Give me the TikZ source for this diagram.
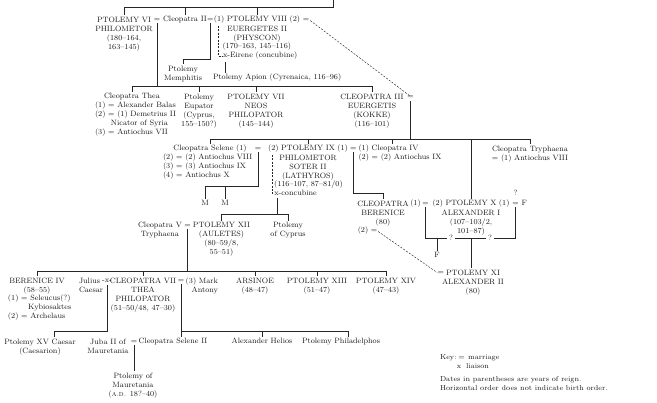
\documentclass[tikz,border=0pt]{standalone}
\usetikzlibrary{calc}
\begin{document}
\begin{tikzpicture}[x=1pt,y=-1pt,
  every node/.style={inner sep=0pt,outer sep=0pt,text=black!90,font=\fontsize{7.7}{9}\selectfont},
  blk/.style={anchor=north,align=center},
  bl/.style={anchor=base west},
  bc/.style={anchor=base},
  br/.style={anchor=base east},
  ln/.style={draw=black!85,line width=0.5pt},
  dsh/.style={draw=black!85,line width=0.45pt,dash pattern=on 2pt off 1.4pt},
  drop/.style={ln,shorten >=1.5pt},
  keyt/.style={font=\fontsize{7.2}{8.5}\selectfont}]
\useasboundingbox (0,0) rectangle (657,403);
% bar levels
\coordinate (t0) at (333,0);
\coordinate (b1) at (0,7);
\coordinate (b2) at (0,86);
\coordinate (b3) at (0,139);
\coordinate (b4) at (0,186);
\coordinate (b4r) at (0,193);
\coordinate (b5) at (0,214);
\coordinate (b6) at (0,238);
\coordinate (b7) at (0,271);
\coordinate (b8) at (0,331);

% ---------- row 1
\node[blk] (n6) at (124,16.9) {PTOLEMY VI\\PHILOMETOR\\(180--164,\\163--145)};
\node[bc] (e1) at (157,22) {=};
\node[bc] (c2) at (185,22) {Cleopatra II};
\node[bc] (e2) at (210.3,22) {=};
\node[bc] (n8) at (257,22) {PTOLEMY VIII};
\node[blk] (n8b) at (257,25.8) {EUERGETES II\\(PHYSCON)};
\node[br] (n8l) at ($(n8.base west)+(-2.5,0)$) {(1)};
\node[bl] (n8r) at ($(n8.base east)+(2.5,0)$) {(2)};
\node[bc] (e3) at ($(n8r.base east)+(6,0)$) {=};
\node[bl] (n8c) at (222.5,49) {(170--163, 145--116)};
\node[bl] (eir) at (223,58) {x-Eirene (concubine)};
\node[blk] (mem) at (183,65.8) {Ptolemy\\Memphitis};
\node[bl] (apion) at (213,80) {Ptolemy Apion (Cyrenaica, 116--96)};

\draw[ln] (t0) |- (n6.north |- b1);
\draw[ln] (n6.north |- b1) -- (n8.north |- b1);
\foreach \n in {n6,c2,n8} \draw[drop] (\n.north |- b1) -- (\n.north);
\draw[dsh] ($(n8l.south)+(-1,2)$) |- (eir.west);
\coordinate (eirb) at ($(eir.south west)+(2.2,1.8)$);
\draw[drop] (eirb) -- (eirb |- apion.north);
\draw[drop] ($(e2.south)+(0,1.2)$) -- ++(0,36) -| (mem.north);

% ---------- row 2
\node[bc] (thea) at (132,99) {Cleopatra Thea};
\node[bl] (th1) at (95,108) {(1) = Alexander Balas};
\node[bl] (th2) at (95,117) {(2) = (1) Demetrius II};
\node[br] (th3) at (168,126) {Nicator of Syria};
\node[bl] (th4) at (95,135) {(3) = Antiochus VII};
\node[blk] (eup) at (199,93.8) {Ptolemy\\Eupator\\(Cyprus,\\155--150?)};
\node[blk] (n7) at (256,93.8) {PTOLEMY VII\\NEOS\\PHILOPATOR\\(145--144)};
\node[blk] (c3) at (372,93.8) {CLEOPATRA III\\EUERGETIS\\(KOKKE)\\(116--101)};
\node[bc] (e4) at (410.5,99) {=};

\draw[ln] ($(e1.south)+(0,1.2)$) -- (e1.south |- b2);
\draw[ln] (thea.north |- b2) -- (c3.north |- b2);
\foreach \n in {thea,eup,n7,c3} \draw[drop] (\n.north |- b2) -- (\n.north);
\draw[dsh] ($(e3.east)+(1,0)$) -- ($(e4.north)+(-1,-0.5)$);

% ---------- row 3
\node[bc] (sel) at (210,151) {Cleopatra Selene (1)};
\node[bl] (s1) at (163,160) {(2) = (2) Antiochus VIII};
\node[bl] (s2) at (163,169) {(3) = (3) Antiochus IX};
\node[bl] (s3) at (163,178) {(4) = Antiochus X};
\node[bc] (e5) at (258,151) {=};
\node[bc] (n9) at (308,151) {PTOLEMY IX};
\node[blk] (n9b) at (308,154.8) {PHILOMETOR\\SOTER II\\(LATHYROS)};
\node[br] (n9l) at ($(n9.base west)+(-2.5,0)$) {(2)};
\node[bl] (n9r) at ($(n9.base east)+(2.5,0)$) {(1)};
\node[bc] (e6) at ($(n9r.base east)+(5.5,0)$) {=};
\node[bl] (c4) at (358.5,151) {(1) Cleopatra IV};
\node[bl] (c4b) at (358.5,160) {(2) = (2) Antiochus IX};
\node[blk] (tryph) at (530,145.9) {Cleopatra Tryphaena\\= (1) Antiochus VIII};
\node[bl] (n9c) at ($(n9l.base)+(0.8,36)$) {(116--107, 87--81/0)};
\node[bl] (conc) at ($(n9l.base)+(1,45)$) {x-concubine};
\node[bc] (m1) at (205,206) {M};
\node[bc] (m2) at (225,206) {M};
\coordinate (c4d) at (392,0);

\draw[ln] ($(e4.south)+(0,2)$) -- (e4.south |- b3);
\draw[ln] (sel.north |- b3) -- (tryph.north |- b3);
\foreach \n in {sel,n9,tryph} \draw[drop] (\n.north |- b3) -- (\n.north);
\draw[drop] (c4d |- b3) -- (c4d |- c4.north);
\draw[dsh] ($(n9l.south)+(-1,2)$) |- (conc.west);
\draw[ln] ($(e5.south)+(0,1.2)$) |- (m1.north |- b4);
\foreach \n in {m1,m2} \draw[drop] (\n.north |- b4) -- (\n.north);

% ---------- row 4 (Ptolemy X)
\node[blk] (ber) at (383,200.9) {CLEOPATRA\\BERENICE\\(80)};
\node[bl] (berr) at (410.3,206) {(1)};
\node[bc] (e7) at (425.5,206) {=};
\node[bc] (n10) at (471,206) {PTOLEMY X};
\node[blk] (n10b) at (471,209.8) {ALEXANDER I\\(107--103/2,\\101--87)};
\node[br] (n10l) at ($(n10.base west)+(-2.5,0)$) {(2)};
\node[bl] (n10r) at ($(n10.base east)+(2.5,0)$) {(1)};
\node[bc] (e8) at ($(n10r.base east)+(6,0)$) {=};
\node[bl] (f1) at ($(e8.base east)+(3,0)$) {F};
\node[bc] (q0) at ($(e8.base)+(0,-10)$) {?};
\node[bc] (ber2) at (363,233) {(2)};
\node[bc] (e9) at (374,233) {=};
\node[bc] (q1) at (451,240.5) {?};
\node[bc] (q2) at (490,240.5) {?};
\node[bc] (f2) at (437,258) {F};
\node[blk] (p11) at (473,269.9) {PTOLEMY XI\\ALEXANDER II\\(80)};
\node[br] (e11) at (444,275) {=};
\coordinate (mid) at (471,238);

\draw[drop] ($(e6.south)+(0,1.2)$) |- (ber.north |- b4r) -- (ber.north);
\draw[drop] (n10.north |- b3) -- (n10.north);
\draw[ln,shorten >=2pt] ($(e7.south)+(0,1.2)$) |- (q1.west |- b6);
\draw[drop] (f2.north |- b6) -- (f2.north);
\draw[ln,shorten <=2pt,shorten >=2pt] (q1.east |- b6) -- (q2.west |- b6);
\draw[drop] (mid) -- (mid |- p11.north);
\draw[ln,shorten >=2pt] ($(e8.south)+(0,1.2)$) |- (q2.east |- b6);
\draw[dsh] ($(e9.east)+(1,0)$) -- ($(e11.west)+(-0.5,-1)$);

% ---------- row 5 (Ptolemy XII)
\node[blk] (cv) at (160,222.4) {Cleopatra V\\Tryphaena};
\node[bc] (e10) at (187.5,227.5) {=};
\node[blk] (p12) at (221.5,222.4) {PTOLEMY XII\\(AULETES)\\(80--59/8,\\55--51)};
\node[blk] (cyp) at (288,222.4) {Ptolemy\\of Cyprus};
\coordinate (cx) at ($(conc.south west)+(2.5,1.8)$);

\draw[ln] (cx) -- (cx |- b5);
\draw[ln] (p12.north |- b5) -- (cyp.north |- b5);
\foreach \n in {p12,cyp} \draw[drop] (\n.north |- b5) -- (\n.north);
\draw[ln] ($(e10.south)+(0,1.2)$) -- (e10.south |- b7);

% ---------- row 6
\node[blk] (b4n) at (37,277.9) {BERENICE IV\\(58--55)};
\node[bl] (bs1) at (8,301) {(1) = Seleucus(?)};
\node[bl] (bs2) at (28,310) {Kybiosaktes};
\node[bl] (bs3) at (8,319) {(2) = Archelaus};
\node[anchor=north west,align=left] (jul) at (79,277.9) {Julius\\Caesar};
\node[bc] (lx) at (107,283) {-x-};
\node[blk] (c7) at (143,277.9) {CLEOPATRA VII\\THEA\\PHILOPATOR\\(51--50/48, 47--30)};
\node[bc] (e12) at (181,283) {=};
\node[anchor=north east,align=right] (ant) at (218,277.9) {(3) Mark\\Antony};
\node[blk] (ars) at (255,277.9) {ARSINOE\\(48--47)};
\node[blk] (p13) at (317,277.9) {PTOLEMY XIII\\(51--47)};
\node[blk] (p14) at (386,277.9) {PTOLEMY XIV\\(47--43)};

\draw[ln] (b4n.north |- b7) -- (p14.north |- b7);
\foreach \n in {b4n,c7,ars,p13,p14} \draw[drop] (\n.north |- b7) -- (\n.north);

% ---------- row 7
\node[blk] (p15) at (40,338.9) {Ptolemy XV Caesar\\(Caesarion)};
\node[blk] (juba) at (108,338.9) {Juba II of\\Mauretania};
\node[bc] (e13) at (134,344) {=};
\node[bc] (cs2) at (173,344) {Cleopatra Selene II};
\node[bc] (hel) at (262,344) {Alexander Helios};
\node[bc] (phil) at (341,344) {Ptolemy Philadelphos};
\node[blk] (pm) at (133,372.9) {Ptolemy of\\Mauretania\\(\textsc{a.d.} 18?--40)};
\coordinate (p15d) at (54,0);
\coordinate (phd) at (348,0);

\draw[drop] ($(lx.south)+(0,2.5)$) |- (p15d |- b8) -- (p15d |- p15.north);
\draw[drop] ($(e12.south)+(0,1.2)$) -- (e12.south |- cs2.north);
\draw[ln] (e12.south |- b8) -- (phd |- b8);
\draw[drop] (hel.north |- b8) -- (hel.north);
\draw[drop] (phd |- b8) -- (phd |- phil.north);
\draw[drop] ($(e13.south)+(0,1.2)$) -- (e13.south |- pm.north);

% ---------- key
\node[bl,keyt] (k0) at (440,360) {Key:};
\node[bc,keyt] (k1) at (461.5,360) {=};
\node[bl,keyt] (k2) at (468,360) {marriage};
\node[bc,keyt] (k3) at (459,369) {x};
\node[bl,keyt] (k4) at (466,369) {liaison};
\node[bl,keyt] (k5) at (440,382) {Dates in parentheses are years of reign.};
\node[bl,keyt] (k6) at (440,391) {Horizontal order does not indicate birth order.};
\end{tikzpicture}
\end{document}
